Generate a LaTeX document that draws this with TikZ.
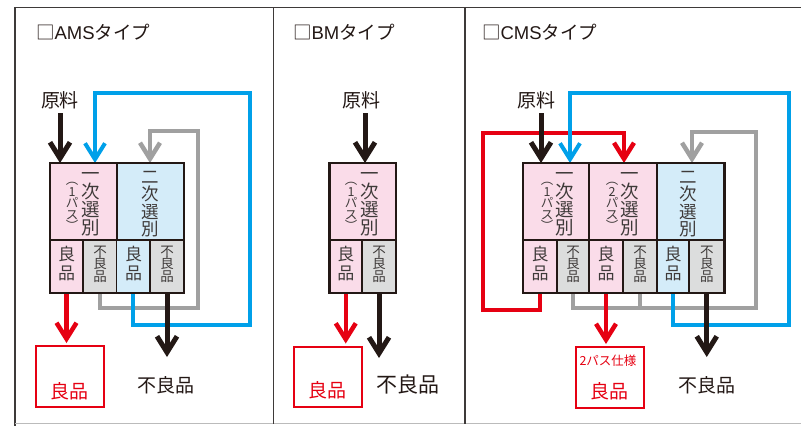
\documentclass[tikz,border=0pt]{standalone}
\usepackage{fontspec}
\setmainfont{Noto Sans CJK JP}
\newfontfamily\latf{Liberation Sans}
\usetikzlibrary{arrows.meta}
\pgfdeclarelayer{bg}
\pgfsetlayers{bg,main}
\definecolor{inkc}{HTML}{231815}
\definecolor{txtc}{HTML}{3E3A39}
\definecolor{redc}{HTML}{E60012}
\definecolor{bluec}{HTML}{00A0E9}
\definecolor{grayc}{HTML}{A0A0A0}
\definecolor{pinkc}{HTML}{FADCE9}
\definecolor{lbluec}{HTML}{D4ECF9}
\definecolor{lgrayc}{HTML}{DCDDDD}
\definecolor{framec}{HTML}{3E3A39}
\definecolor{botc}{HTML}{BBBBBB}
\newcommand\vcol[6]{%
  \foreach \vchar [count=\vi] in {#6}{%
    \node[vch, font=\fontsize{#5}{#5}\selectfont] (#1-\vi) at (#2, {#3+(\vi-1)*(#4)+0.38*(#5)}) {\vchar};}}
\begin{document}
\begin{tikzpicture}[x=1pt,y=-1pt,
  vch/.style={anchor=base,inner sep=0pt,outer sep=0pt,text=txtc},
  lbl/.style={anchor=base,inner sep=0pt,outer sep=0pt,text=inkc},
  cellb/.style={draw=inkc,line width=1.5pt,anchor=north west,inner sep=0pt,outer sep=0pt,minimum height=53pt},
  cellt/.style={draw=inkc,line width=2pt,anchor=north west,inner sep=0pt,outer sep=0pt,minimum height=77pt},
  boxo/.style={draw=inkc,line width=2.6pt,anchor=north west,inner sep=0pt,outer sep=0pt,minimum height=130pt},
  resbox/.style={draw=redc,line width=2pt,anchor=north west,inner sep=0pt,outer sep=0pt,minimum width=68pt,minimum height=60.5pt},
  tipb/.style={-{Straight Barb[length=16pt,width=20pt,sharp]}},
  conn/.style={line join=miter,line cap=butt},
  blkln/.style={conn,draw=inkc,line width=5pt},
  redln/.style={conn,draw=redc,line width=4.5pt},
  blueln/.style={conn,draw=bluec,line width=4pt},
  grayln/.style={conn,draw=grayc,line width=4.5pt}
]
\useasboundingbox (0,0) rectangle (801,426);

% ---------- titles ----------
\node[lbl,anchor=base west,font=\fontsize{18.5}{18.5}\selectfont] (A-title) at (36,39.5) {□{\latf AMS}タイプ};
\node[lbl,anchor=base west,font=\fontsize{18.5}{18.5}\selectfont] (B-title) at (293,39.5) {□{\latf BM}タイプ};
\node[lbl,anchor=base west,font=\fontsize{18.5}{18.5}\selectfont] (C-title) at (482,39.5) {□{\latf CMS}タイプ};

% ---------- AMS ----------
\node[lbl,font=\fontsize{19}{19}\selectfont] (A-raw) at (60,107.7) {原料};
\node[cellb,fill=pinkc,minimum width=33pt] (A-b1) at (50,240) {};
\node[cellb,fill=lgrayc,minimum width=33.5pt] (A-b2) at (83,240) {};
\node[cellb,fill=lbluec,minimum width=33.5pt] (A-b3) at (116.5,240) {};
\node[cellb,fill=lgrayc,minimum width=34pt] (A-b4) at (150,240) {};
\node[cellt,fill=pinkc,minimum width=66.5pt] (A-t1) at (50,163) {};
\node[cellt,fill=lbluec,minimum width=67.5pt] (A-t2) at (116.5,163) {};
\node[boxo,minimum width=134pt] (A-box) at (50,163) {};
\vcol{A-m}{91}{173}{18}{18.5}{一,次,選,別}
\vcol{A-s}{72}{180}{11.5}{12.5}{︵,1,パ,ス,︶}
\vcol{A-n}{150}{177}{17.2}{17.5}{二,次,選,別}
\vcol{A-g1}{66.5}{254}{19}{17}{良,品}
\vcol{A-r1}{100}{251}{12.8}{13.5}{不,良,品}
\vcol{A-g2}{133.5}{254}{19}{17}{良,品}
\vcol{A-r2}{167}{251}{12.8}{13.5}{不,良,品}
\node[resbox] (A-res) at (36,346) {};
\node[lbl,text=redc,font=\fontsize{19}{19}\selectfont] (A-good) at (69,398.2) {良品};
\node[lbl,font=\fontsize{19}{19}\selectfont] (A-bad) at (166,392.2) {不良品};
\coordinate (A-in) at (60,113);
\coordinate (A-gy1) at (198,308);
\coordinate (A-gy2) at (150,131);
\coordinate (A-bl1) at (250,325);
\coordinate (A-bl2) at (95,93);
\coordinate (A-out) at (167,357);

% ---------- BM ----------
\node[lbl,font=\fontsize{19}{19}\selectfont] (B-raw) at (361.5,107.7) {原料};
\node[cellb,fill=pinkc,minimum width=32.5pt] (B-b1) at (329.5,240) {};
\node[cellb,fill=lgrayc,minimum width=34pt] (B-b2) at (362,240) {};
\node[cellt,fill=pinkc,minimum width=66.5pt] (B-t1) at (329.5,163) {};
\node[boxo,minimum width=66.5pt] (B-box) at (329.5,163) {};
\vcol{B-m}{370}{173}{18}{18.5}{一,次,選,別}
\vcol{B-s}{351}{180}{11.5}{12.5}{︵,1,パ,ス,︶}
\vcol{B-g}{345.75}{254}{19}{17}{良,品}
\vcol{B-r}{379}{251}{12.8}{13.5}{不,良,品}
\node[resbox] (B-res) at (294,346.5) {};
\node[lbl,text=redc,font=\fontsize{19}{19}\selectfont] (B-good) at (327,397.2) {良品};
\node[lbl,font=\fontsize{21}{21}\selectfont] (B-bad) at (407.5,392) {不良品};
\coordinate (B-in) at (365,113);
\coordinate (B-out) at (379,358);

% ---------- CMS ----------
\node[lbl,font=\fontsize{19}{19}\selectfont] (C-raw) at (536,107.7) {原料};
\node[cellb,fill=pinkc,minimum width=34pt] (C-b1) at (523,240) {};
\node[cellb,fill=lgrayc,minimum width=32pt] (C-b2) at (557,240) {};
\node[cellb,fill=pinkc,minimum width=34pt] (C-b3) at (589,240) {};
\node[cellb,fill=lgrayc,minimum width=34pt] (C-b4) at (623,240) {};
\node[cellb,fill=lbluec,minimum width=32pt] (C-b5) at (657,240) {};
\node[cellb,fill=lgrayc,minimum width=35.5pt] (C-b6) at (689,240) {};
\node[cellt,fill=pinkc,minimum width=66pt] (C-t1) at (523,163) {};
\node[cellt,fill=pinkc,minimum width=68pt] (C-t2) at (589,163) {};
\node[cellt,fill=lbluec,minimum width=67.5pt] (C-t3) at (657,163) {};
\node[boxo,minimum width=201.5pt] (C-box) at (523,163) {};
\vcol{C-m1}{565}{173}{18}{18.5}{一,次,選,別}
\vcol{C-s1}{547}{180}{11.5}{12.5}{︵,1,パ,ス,︶}
\vcol{C-m2}{630}{173}{18}{18.5}{一,次,選,別}
\vcol{C-s2}{612}{180}{11.5}{12.5}{︵,2,パ,ス,︶}
\vcol{C-n}{688}{177}{17.2}{17.5}{二,次,選,別}
\vcol{C-g1}{540}{254}{19}{17}{良,品}
\vcol{C-r1}{573}{251}{12.8}{13.5}{不,良,品}
\vcol{C-g2}{606}{254}{19}{17}{良,品}
\vcol{C-r2}{640}{251}{12.8}{13.5}{不,良,品}
\vcol{C-g3}{673}{254}{19}{17}{良,品}
\vcol{C-r3}{706.75}{251}{12.8}{13.5}{不,良,品}
\node[resbox] (C-res) at (576,347) {};
\node[lbl,text=redc,font=\fontsize{12.5}{12.5}\selectfont] (C-spec) at (608,365.3) {2パス仕様};
\node[lbl,text=redc,font=\fontsize{19}{19}\selectfont] (C-good) at (609.5,398.2) {良品};
\node[lbl,font=\fontsize{19}{19}\selectfont] (C-bad) at (707,392.2) {不良品};
\coordinate (C-in) at (541,113);
\coordinate (C-rd1) at (483,310);
\coordinate (C-rd2) at (624,133);
\coordinate (C-gy1) at (756,308);
\coordinate (C-gy2) at (692,132);
\coordinate (C-bl1) at (789,325);
\coordinate (C-bl2) at (570,93);
\coordinate (C-out) at (706,357);

\begin{pgfonlayer}{bg}
\fill[white] (0,0) rectangle (801,426);
% frame
\draw[framec,line width=1.6pt] (801,7.5) -- (15,7.5) -- (15,426);
\draw[botc,line width=1.2pt] (15,423.8) -- (801,423.8);
\draw[framec,line width=1.4pt] (273.5,7.5) -- (273.5,424);
\draw[framec,line width=1.4pt] (465,7.5) -- (465,424);
% AMS connectors
\draw[grayln,tipb] (A-b2.south) |- (A-gy1) |- (A-gy2) -- (A-gy2 |- A-box.north);
\draw[blueln,tipb] (A-b3.south) |- (A-bl1) |- (A-bl2) -- (A-bl2 |- A-box.north);
\draw[blkln,tipb] (A-b4.south) -- (A-b4.south |- A-out);
\draw[blkln,tipb] (A-in) -- (A-in |- A-box.north);
\draw[redln,tipb,shorten >=3pt] (A-b1.south) -- (A-b1.south |- A-res.north);
% BM connectors
\draw[blkln,tipb] (B-in) -- (B-in |- B-box.north);
\draw[redln,tipb,shorten >=3pt] (B-b1.south) -- (B-b1.south |- B-res.north);
\draw[blkln,tipb] (B-b2.south) -- (B-b2.south |- B-out);
% CMS connectors
\draw[grayln,tipb] (C-b2.south) |- (C-gy1) |- (C-gy2) -- (C-gy2 |- C-box.north);
\draw[grayln] (C-b4.south) -- (C-b4.south |- C-gy1);
\draw[redln,tipb] (C-b1.south) |- (C-rd1) |- (C-rd2) -- (C-rd2 |- C-box.north);
\draw[redln,tipb,shorten >=3pt] (C-b3.south) -- (C-b3.south |- C-res.north);
\draw[blueln,tipb] (C-b5.south) |- (C-bl1) |- (C-bl2) -- (C-bl2 |- C-box.north);
\draw[blkln,tipb] (C-in) -- (C-in |- C-box.north);
\draw[blkln,tipb] (C-b6.south) -- (C-b6.south |- C-out);
\end{pgfonlayer}
\end{tikzpicture}
\end{document}
